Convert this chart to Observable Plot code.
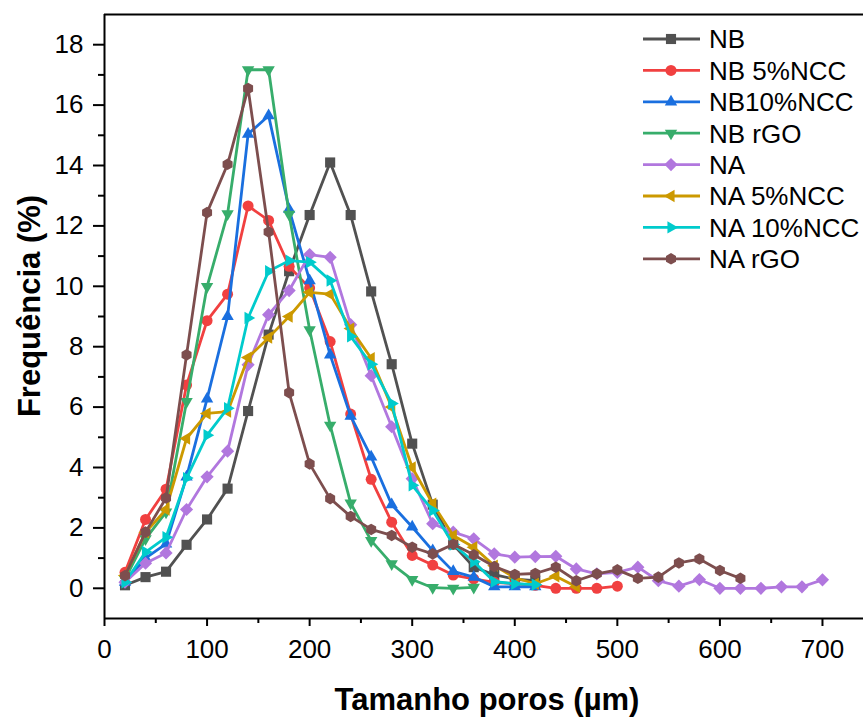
<!DOCTYPE html>
<html><head><meta charset="utf-8">
<script src="https://cdn.jsdelivr.net/npm/d3@7"></script>
<script src="https://cdn.jsdelivr.net/npm/@observablehq/plot@0.6"></script>
<style>
body{margin:0;background:#fff;}
#wrap{position:relative;width:863px;height:717px;overflow:hidden;}
#legend{position:absolute;left:0;top:0;pointer-events:none;}
</style></head><body><div id="wrap"></div>
<script>
// ---- data ----
const poreSizes = [20,40,60,80,100,120,140,160,180,200,220,240,260,280,300,320,340,360,380,400,
  420,440,460,480,500,520,540,560,580,600,620,640,660,680,700];

const seriesNames = ["NB","NB 5%NCC","NB10%NCC","NB rGO","NA","NA 5%NCC","NA 10%NCC","NA rGO"];
const seriesColors = ["#515151","#F14040","#1A6FDF","#37AD6B","#B177DE","#CC9900","#00CBCC","#7D4E4E"];

const nb      = [0.1,0.37,0.55,1.44,2.28,3.3,5.87,8.4,10.5,12.36,14.1,12.36,9.83,7.42,4.79,2.77,1.45,0.7,0.45,0.3,0.25];
const nb5ncc  = [0.53,2.28,3.28,6.73,8.86,9.74,12.66,12.18,10.66,9.94,8.17,5.77,3.61,2.19,1.09,0.77,0.44,0.31,0.2,0.15,0.1,0.0,0.0,0.0,0.07];
const nb10ncc = [0.2,1.0,1.47,3.69,6.27,9.0,15.04,15.65,12.55,10.19,7.73,5.7,4.35,2.77,2.03,1.25,0.56,0.37,0.05,0.05,0.05];
const nbrgo   = [0.3,1.64,2.52,6.18,9.99,12.4,17.17,17.17,12.38,8.56,5.4,2.82,1.58,0.81,0.29,0.02,0.0,0.03];
const na      = [0.2,0.83,1.17,2.61,3.69,4.54,7.4,9.06,9.86,11.05,10.96,8.73,7.04,5.35,3.63,2.14,1.86,1.64,1.14,1.03,
  1.05,1.06,0.64,0.48,0.53,0.7,0.25,0.07,0.29,0.0,0.0,0.0,0.05,0.05,0.28];
const na5ncc  = [0.42,1.85,2.61,4.96,5.79,5.85,7.64,8.3,9.0,9.8,9.74,8.6,7.62,6.0,4.0,2.8,1.75,1.36,0.75,0.35,0.15,0.4,0.05];
const na10ncc = [0.2,1.2,1.69,3.65,5.07,5.96,8.95,10.5,10.85,10.8,10.19,8.34,7.42,6.12,3.41,2.58,1.45,0.88,0.22,0.15,0.12];
const nargo   = [0.42,1.86,2.99,7.73,12.44,14.04,16.55,11.8,6.48,4.12,2.97,2.38,1.95,1.75,1.36,1.14,1.46,1.11,0.72,0.46,
  0.49,0.7,0.25,0.48,0.61,0.33,0.37,0.84,0.97,0.59,0.33];

const xTicks = [0,100,200,300,400,500,600,700];
const xMinorTicks = [50,150,250,350,450,550,650];
const yTicks = [0,2,4,6,8,10,12,14,16,18];
const yMinorTicks = [1,3,5,7,9,11,13,15,17];
const xTitle = "Tamanho poros (\u00B5m)";
const yTitle = "Frequência (%)";

// ---- marker shapes ----
function polySym(n, startDeg, k) {
  return {draw(ctx, size) {
    const r = Math.sqrt(size / Math.PI) * k;
    for (let i = 0; i < n; i++) {
      const a = (startDeg + i * 360 / n) * Math.PI / 180;
      const px = r * Math.cos(a), py = r * Math.sin(a);
      if (i === 0) ctx.moveTo(px, py); else ctx.lineTo(px, py);
    }
    ctx.closePath();
  }};
}
const symSquare = {draw(ctx, size){ const h = Math.sqrt(size/Math.PI)*0.92; ctx.rect(-h,-h,2*h,2*h); }};
const symCircle = {draw(ctx, size){ const r = Math.sqrt(size/Math.PI)*1.0; ctx.moveTo(r,0); ctx.arc(0,0,r,0,2*Math.PI); }};
const symUp = polySym(3, -90, 1.3);
const symDown = polySym(3, 90, 1.3);
const symDiamond = polySym(4, -90, 1.2);
const symLeft = polySym(3, 180, 1.3);
const symRight = polySym(3, 0, 1.3);
const symHex = polySym(6, -90, 1.05);
const seriesSymbols = [symSquare, symCircle, symUp, symDown, symDiamond, symLeft, symRight, symHex];

const allValues = [nb, nb5ncc, nb10ncc, nbrgo, na, na5ncc, na10ncc, nargo];
const seriesData = allValues.map((vals, s) => vals.map((v, i) => ({x: poreSizes[i], y: v, s})));

const FONT = "'Liberation Sans', Arial, Helvetica, sans-serif";

const marks = [];
seriesData.forEach((d, s) => {
  marks.push(Plot.line(d, {x: "x", y: "y", stroke: seriesColors[s], strokeWidth: 2.8, strokeLinejoin: "round"}));
  marks.push(Plot.dot(d, {x: "x", y: "y", fill: seriesColors[s], stroke: "none", symbol: seriesSymbols[s], r: 5.5}));
});

const chart = Plot.plot({
  width: 863, height: 717,
  marginLeft: 104, marginRight: 0, marginTop: 14, marginBottom: 99,
  style: {fontFamily: FONT, fontSize: "26px", background: "white", color: "black", overflow: "visible"},
  x: {domain: [0, 740], label: null},
  y: {domain: [-1, 19], label: null},
  marks: [
    ...marks,
    Plot.ruleY([-1], {stroke: "black", strokeWidth: 2}),
    Plot.ruleY([19], {stroke: "black", strokeWidth: 2}),
    Plot.ruleX([0], {stroke: "black", strokeWidth: 2}),
    Plot.axisX({ticks: xTicks, tickSize: 8, tickPadding: 13, fontSize: 26, strokeWidth: 2, label: null, tickFormat: d => String(d)}),
    Plot.axisX({ticks: xMinorTicks, tickSize: 5, strokeWidth: 2, label: null, tickFormat: () => ""}),
    Plot.axisY({ticks: yTicks, tickSize: 11, tickPadding: 10, fontSize: 26, strokeWidth: 2, label: null, tickFormat: d => String(d)}),
    Plot.axisY({ticks: yMinorTicks, tickSize: 6, strokeWidth: 2, label: null, tickFormat: () => ""})
  ]
});

const wrap = document.getElementById("wrap");
wrap.appendChild(chart);

const svg = d3.select(chart);
svg.append("text")
  .attr("x", 487).attr("y", 710)
  .attr("text-anchor", "middle")
  .attr("font-family", FONT).attr("font-weight", "bold").attr("font-size", 31)
  .attr("fill", "black")
  .text(xTitle);
svg.append("text")
  .attr("transform", "translate(40,306) rotate(-90)")
  .attr("text-anchor", "middle")
  .attr("font-family", FONT).attr("font-weight", "bold").attr("font-size", 31)
  .attr("fill", "black")
  .text(yTitle);

// ---- legend ----
const leg = d3.select(wrap).append("svg").attr("id", "legend").attr("width", 863).attr("height", 717);
const rowY0 = 39, rowDy = 31.4;
seriesNames.forEach((name, s) => {
  const g = leg.append("g").attr("transform", `translate(0,${rowY0 + s * rowDy})`);
  g.append("line").attr("x1", 643).attr("x2", 700).attr("y1", 0).attr("y2", 0)
    .attr("stroke", seriesColors[s]).attr("stroke-width", 2.8);
  g.append("path").attr("transform", "translate(671,0)")
    .attr("d", d3.symbol(seriesSymbols[s], Math.PI * 5.5 * 5.5)())
    .attr("fill", seriesColors[s]);
  g.append("text").attr("x", 709).attr("y", 0).attr("dy", "0.36em")
    .attr("font-family", FONT).attr("font-size", 26).attr("fill", "black")
    .text(name);
});
</script></body></html>
